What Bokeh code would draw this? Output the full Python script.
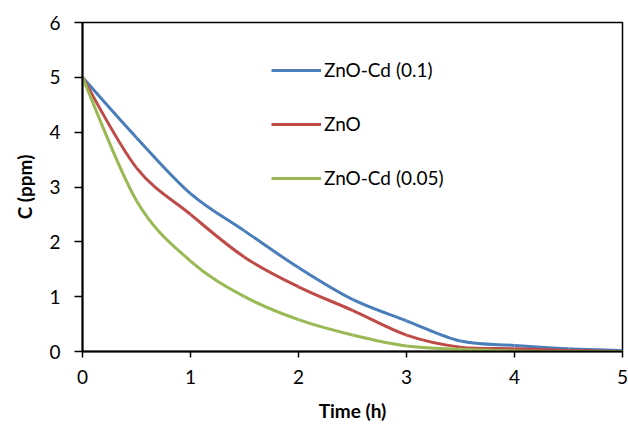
from bokeh.plotting import figure
from bokeh.models import Range1d, FixedTicker, Legend, LegendItem
from bokeh.embed import file_html
from bokeh.resources import INLINE

time_h = [0, 0.5, 1, 1.5, 2, 2.5, 3, 3.5, 4, 4.5, 5]
zno_cd_01 = [5, 3.9, 2.88, 2.2, 1.53, 0.95, 0.56, 0.19, 0.11, 0.05, 0.02]
zno = [5, 3.35, 2.5, 1.72, 1.18, 0.75, 0.3, 0.08, 0.05, 0.02, 0.0]
zno_cd_005 = [5, 2.75, 1.65, 1.0, 0.58, 0.3, 0.1, 0.04, 0.01, 0.0, 0.0]

series_names = ["ZnO-Cd (0.1)", "ZnO", "ZnO-Cd (0.05)"]
series_vals = [zno_cd_01, zno, zno_cd_005]
colors = ["#4A7EBB", "#BE4B48", "#98B954"]
x_ticks = [0, 1, 2, 3, 4, 5]
y_ticks = [0, 1, 2, 3, 4, 5, 6]

FONT = "Lato"

p = figure(width=628, height=425, output_backend="svg", toolbar_location=None,
           x_range=Range1d(0, 5), y_range=Range1d(0, 6),
           min_border_left=82, min_border_top=22, min_border_right=6, min_border_bottom=74)
p.grid.visible = False
p.outline_line_color = "black"
p.outline_line_width = 1.5
p.background_fill_color = "white"
p.border_fill_color = "white"


def smooth_segments(xs, ys):
    n = len(xs)
    out = dict(x0=[], y0=[], x1=[], y1=[], cx0=[], cy0=[], cx1=[], cy1=[])
    for i in range(n - 1):
        xp = xs[i - 1] if i > 0 else xs[i]
        yp = ys[i - 1] if i > 0 else ys[i]
        xn = xs[i + 2] if i + 2 < n else xs[i + 1]
        yn = ys[i + 2] if i + 2 < n else ys[i + 1]
        out["x0"].append(xs[i]); out["y0"].append(ys[i])
        out["x1"].append(xs[i + 1]); out["y1"].append(ys[i + 1])
        out["cx0"].append(xs[i] + (xs[i + 1] - xp) / 6)
        out["cy0"].append(ys[i] + (ys[i + 1] - yp) / 6)
        out["cx1"].append(xs[i + 1] - (xn - xs[i]) / 6)
        out["cy1"].append(ys[i + 1] - (yn - ys[i]) / 6)
    return out


nan = float("nan")
items = []
for name, vals, c in zip(series_names, series_vals, colors):
    seg = smooth_segments(time_h, vals)
    p.bezier(x0=seg["x0"], y0=seg["y0"], x1=seg["x1"], y1=seg["y1"],
             cx0=seg["cx0"], cy0=seg["cy0"], cx1=seg["cx1"], cy1=seg["cy1"],
             line_color=c, line_width=3)
    r = p.line(x=[nan, nan], y=[nan, nan], line_color=c, line_width=3)
    items.append(LegendItem(label=name, renderers=[r]))

legend = Legend(items=items, location=(189, 162), orientation="vertical",
                glyph_width=50, glyph_height=20, label_height=20, spacing=31,
                label_standoff=3, padding=0, margin=0,
                border_line_alpha=0, background_fill_alpha=0,
                label_text_font=FONT, label_text_font_size="19px", label_text_color="black")
p.add_layout(legend, "center")

for ax in (p.xaxis[0], p.yaxis[0]):
    ax.axis_line_color = "black"
    ax.axis_line_width = 2
    ax.major_tick_line_color = "black"
    ax.major_tick_line_width = 1.5
    ax.major_tick_in = 0
    ax.minor_tick_line_color = None
    ax.major_label_text_font = FONT
    ax.major_label_text_font_size = "19px"
    ax.major_label_text_color = "black"
    ax.axis_label_text_font = FONT
    ax.axis_label_text_font_size = "19px"
    ax.axis_label_text_font_style = "bold"
    ax.axis_label_text_color = "black"

p.xaxis.ticker = FixedTicker(ticks=x_ticks)
p.yaxis.ticker = FixedTicker(ticks=y_ticks)
p.xaxis.major_tick_out = 6
p.yaxis.major_tick_out = 8
p.xaxis.major_label_standoff = 12
p.yaxis.major_label_standoff = 14
p.xaxis.axis_label = "Time (h)"
p.yaxis.axis_label = "C (ppm)"
p.xaxis.axis_label_standoff = 12
p.yaxis.axis_label_standoff = 10

open("out.html", "w").write(file_html(p, INLINE))
